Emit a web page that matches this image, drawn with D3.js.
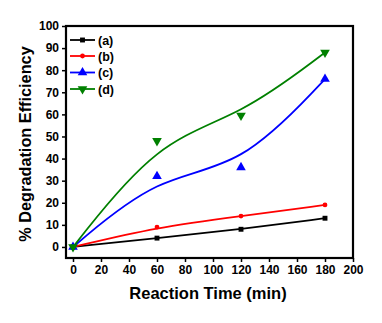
<!DOCTYPE html>
<html><head><meta charset="utf-8">
<script src="https://cdn.jsdelivr.net/npm/d3@7"></script>
<style>body{margin:0;background:#fff;} text{font-family:"Liberation Sans",Arial,sans-serif;font-weight:bold;}</style>
</head><body><svg id="c" width="382" height="323"></svg>
<script>
const times = [0, 60, 120, 180];
const seriesNames = ["(a)", "(b)", "(c)", "(d)"];
const seriesA = [0, 4, 8, 13];
const seriesB = [0, 9, 14, 19];
const seriesC = [0, 32, 36, 76];
const seriesD = [0, 48, 59.5, 88];
const colors = ["#000000", "#ff0000", "#0000ff", "#008000"];
const symbols = [d3.symbolSquare, d3.symbolCircle, d3.symbolTriangle, d3.symbolTriangle];
const xTicks = [0,20,40,60,80,100,120,140,160,180,200];
const yTicks = [0,10,20,30,40,50,60,70,80,90,100];

const svg = d3.select("#c");
const L=66, R=353, T=26, B=258;
const x = d3.scaleLinear().domain([-5,200]).range([L,R]);
const y = d3.scaleLinear().domain([-5,100]).range([B,T]);

const allSeries = [seriesA, seriesB, seriesC, seriesD];
const line = d3.line().x((d,i)=>x(times[i])).y(d=>y(d)).curve(d3.curveBasis);

allSeries.forEach((s,k)=>{
  svg.append("path").attr("d", line(s)).attr("fill","none").attr("stroke",colors[k]).attr("stroke-width",1.8);
});
const symSize=[24,18,40,40];
allSeries.forEach((s,k)=>{
  s.forEach((v,i)=>{
    svg.append("path").attr("d", d3.symbol(symbols[k], symSize[k])())
      .attr("transform", `translate(${x(times[i])},${y(v)})${k===3?" rotate(180)":""}`)
      .attr("fill", colors[k]);
  });
});

// frame
svg.append("rect").attr("x",L).attr("y",T).attr("width",R-L).attr("height",B-T).attr("fill","none").attr("stroke","#000").attr("stroke-width",2.2);

const xa = svg.append("g").attr("transform",`translate(0,${B})`).call(d3.axisBottom(x).tickValues(xTicks).tickSize(4).tickPadding(3));
const ya = svg.append("g").attr("transform",`translate(${L},0)`).call(d3.axisLeft(y).tickValues(yTicks).tickSize(4).tickPadding(3));
[xa,ya].forEach(a=>{
  a.select(".domain").remove();
  a.selectAll("line").attr("stroke","#000").attr("stroke-width",1.5);
  a.selectAll("text").attr("font-size",12).attr("fill","#000").style("font-family","'Liberation Sans',Arial,sans-serif").style("font-weight","bold");
});

svg.append("text").attr("x",208).attr("y",299).attr("text-anchor","middle").attr("font-size",16.5).text("Reaction Time (min)");
svg.append("text").attr("transform","translate(31,144) rotate(-90)").attr("text-anchor","middle").attr("font-size",16.3).text("% Degradation Efficiency");

// legend
const legY=[40,56,72.5,89];
seriesNames.forEach((n,k)=>{
  svg.append("line").attr("x1",70).attr("x2",95).attr("y1",legY[k]).attr("y2",legY[k]).attr("stroke",colors[k]).attr("stroke-width",1.8);
  svg.append("path").attr("d", d3.symbol(symbols[k], symSize[k])())
    .attr("transform", `translate(82.5,${legY[k]})${k===3?" rotate(180)":""}`).attr("fill",colors[k]);
  svg.append("text").attr("x",98).attr("y",legY[k]+4.5).attr("font-size",12.5).text(n);
});
</script></body></html>
